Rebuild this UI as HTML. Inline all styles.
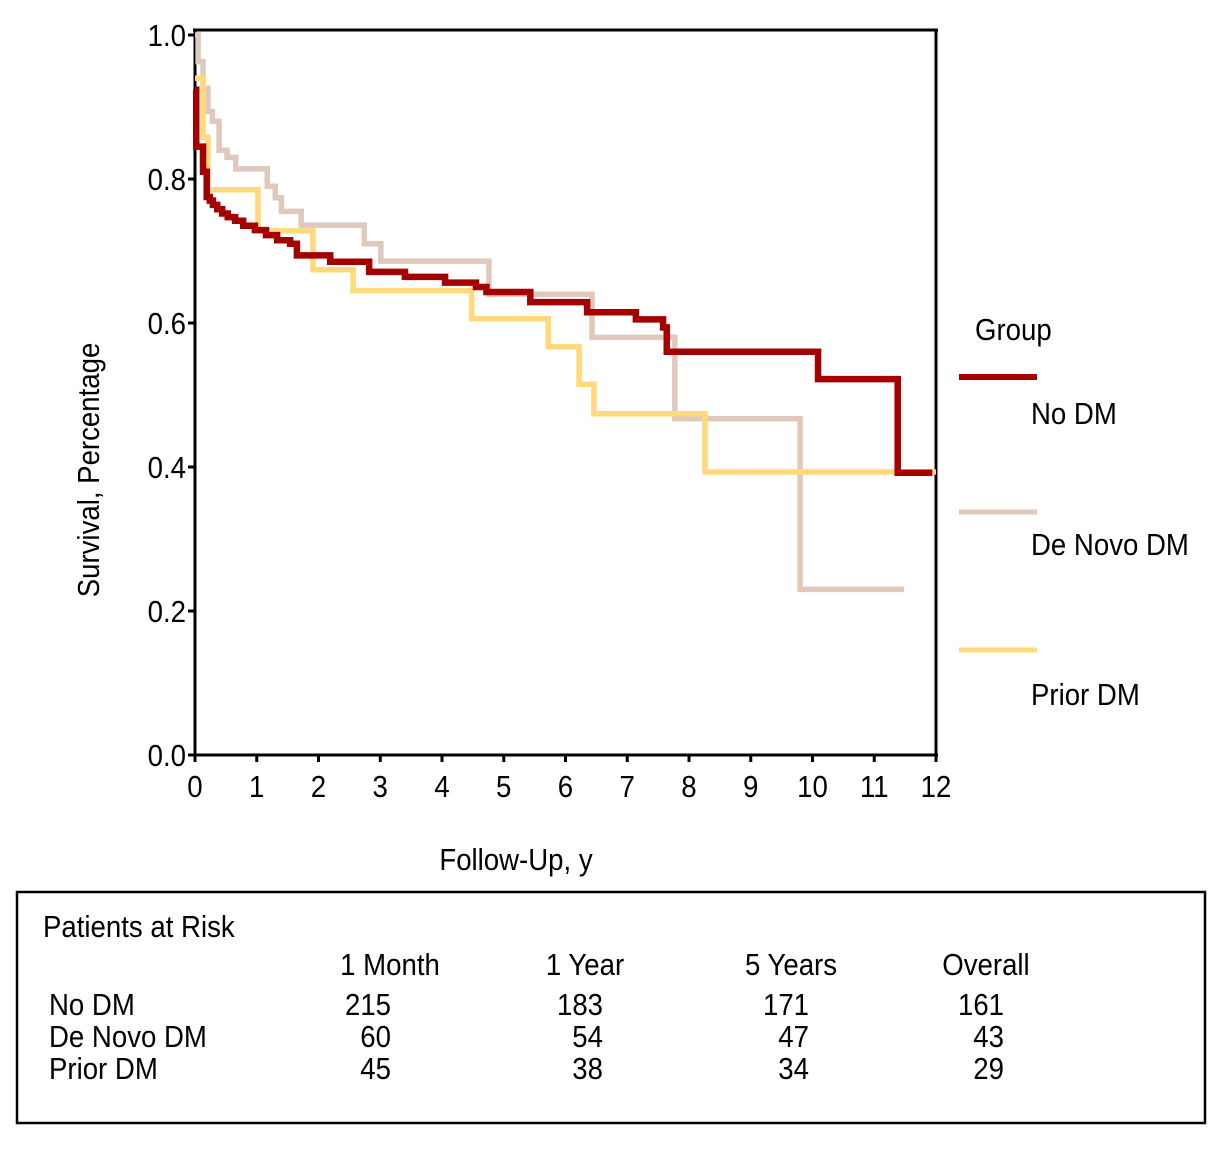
<!DOCTYPE html>
<html><head><meta charset="utf-8"><style>
body{margin:0;background:#fff;}
svg{display:block;font-family:"Liberation Sans Narrow","Liberation Sans",sans-serif;}
</style></head><body>
<svg id="chart" width="1224" height="1149">
<g id="axes"></g>
<g id="series"></g>
<g id="legend">
<text x="975" y="340" font-size="31">Group</text>
<line x1="959" y1="377" x2="1037" y2="377" stroke="#A50000" stroke-width="6"/>
<text x="1031" y="424" font-size="31">No DM</text>
<line x1="959" y1="512" x2="1037" y2="512" stroke="#E0C8BC" stroke-width="5"/>
<text x="1031" y="555" font-size="31">De Novo DM</text>
<line x1="959" y1="650" x2="1037" y2="650" stroke="#FFD97A" stroke-width="5"/>
<text x="1031" y="705" font-size="31">Prior DM</text>
</g>
<text x="516" y="870" font-size="31" text-anchor="middle">Follow-Up, y</text>
<text transform="translate(99,470) rotate(-90)" font-size="31" text-anchor="middle">Survival, Percentage</text>
<g font-size="31">
<rect x="17" y="892" width="1188" height="231" fill="none" stroke="#000" stroke-width="2.5"/>
<text x="43" y="937">Patients at Risk</text>
<text x="390" y="975" text-anchor="middle">1 Month</text>
<text x="585" y="975" text-anchor="middle">1 Year</text>
<text x="791" y="975" text-anchor="middle">5 Years</text>
<text x="986" y="975" text-anchor="middle">Overall</text>
<text x="49" y="1015">No DM</text>
<text x="49" y="1047">De Novo DM</text>
<text x="49" y="1079">Prior DM</text>
<g text-anchor="end">
<text x="391" y="1015">215</text>
<text x="603" y="1015">183</text>
<text x="809" y="1015">171</text>
<text x="1004" y="1015">161</text>
<text x="391" y="1047">60</text>
<text x="603" y="1047">54</text>
<text x="809" y="1047">47</text>
<text x="1004" y="1047">43</text>
<text x="391" y="1079">45</text>
<text x="603" y="1079">38</text>
<text x="809" y="1079">34</text>
<text x="1004" y="1079">29</text>
</g>
</g>
</svg>
<script>
const xTicks=[0,1,2,3,4,5,6,7,8,9,10,11,12];
const yTicks=[0.0,0.2,0.4,0.6,0.8,1.0];
const yTickLabels=["0.0","0.2","0.4","0.6","0.8","1.0"];
const noDmTimes=[0,0.02,0.13,0.19,0.24,0.29,0.36,0.44,0.53,0.65,0.78,0.97,1.15,1.33,1.54,1.65,2.19,2.82,3.40,4.05,4.55,4.72,5.43,6.35,7.14,7.58,7.64,10.09,11.38];
const noDmSurv=[0.924,0.845,0.81,0.775,0.77,0.764,0.758,0.752,0.747,0.742,0.735,0.729,0.722,0.715,0.71,0.694,0.685,0.671,0.664,0.656,0.65,0.643,0.629,0.615,0.605,0.594,0.56,0.522,0.392];
const noDmEnd=11.94;
const deNovoTimes=[0,0.05,0.13,0.21,0.28,0.39,0.52,0.66,1.17,1.30,1.40,1.72,2.74,3.01,4.76,6.43,7.77,9.80];
const deNovoSurv=[1.0,0.963,0.926,0.894,0.88,0.84,0.83,0.814,0.79,0.774,0.755,0.736,0.71,0.686,0.64,0.58,0.467,0.23];
const deNovoEnd=11.48;
const priorTimes=[0,0.13,0.21,1.02,1.91,2.56,4.48,5.72,6.22,6.46,8.26];
const priorSurv=[0.94,0.858,0.785,0.728,0.674,0.645,0.606,0.567,0.515,0.474,0.393];
const priorEnd=12.0;

const NS="http://www.w3.org/2000/svg";
const X0=195,X1=936,Y0=755,Y1=35;
const xs=t=>X0+t*(X1-X0)/12;
const ys=v=>Y0-v*(Y0-Y1);
function mk(tag,attrs,parent){const e=document.createElementNS(NS,tag);for(const k in attrs)e.setAttribute(k,attrs[k]);parent.appendChild(e);return e;}
const axes=document.getElementById('axes');
let l;
l=mk('line',{x1:X0,y1:30,x2:X0,y2:Y0,stroke:'#000','stroke-width':3},axes);


l=mk('line',{x1:X0-2,y1:Y0,x2:X1+2,y2:Y0,stroke:'#000','stroke-width':3},axes);


l=mk('line',{x1:X0-2,y1:30,x2:X1+2,y2:30,stroke:'#000','stroke-width':3},axes);


l=mk('line',{x1:X1,y1:30,x2:X1,y2:Y0,stroke:'#000','stroke-width':3},axes);


xTicks.forEach(t=>{
 const tk=mk('line',{x1:xs(t),y1:Y0,x2:xs(t),y2:Y0+7,stroke:'#000','stroke-width':3},axes);
 
 
 const tx=mk('text',{x:xs(t),y:797,'font-size':31,'text-anchor':'middle'},axes);
 tx.textContent=String(t);
 
 
});
yTicks.forEach((v,i)=>{
 const tk=mk('line',{x1:X0-7,y1:ys(v),x2:X0,y2:ys(v),stroke:'#000','stroke-width':3},axes);
 
 
 const tx=mk('text',{x:186,y:ys(v)+11,'font-size':31,'text-anchor':'end'},axes);
 tx.textContent=yTickLabels[i];
 
 
});
const series=document.getElementById('series');
function step(times,surv,end,color,w,name){
 let d='M'+xs(times[0])+','+ys(surv[0]);
 for(let i=1;i<times.length;i++){d+=' H'+xs(times[i])+' V'+ys(surv[i]);}
 d+=' H'+xs(end);
 const p=mk('path',{d:d,fill:'none',stroke:color,'stroke-width':w,'stroke-linejoin':'miter','stroke-linecap':'butt'},series);
 
 
}
step(deNovoTimes,deNovoSurv,deNovoEnd,'#E0C8BC',5.5,'de-novo-dm-curve');
step(priorTimes,priorSurv,priorEnd,'#FFD97A',5.5,'prior-dm-curve');
step(noDmTimes,noDmSurv,noDmEnd,'#A50000',6.5,'no-dm-curve');
// condense text to mimic narrow font
document.querySelectorAll('text').forEach(t=>{
 const w=t.getComputedTextLength();
 t.setAttribute('textLength',(w*0.89).toFixed(1));
 t.setAttribute('lengthAdjust','spacingAndGlyphs');
});
</script>
</body></html>
